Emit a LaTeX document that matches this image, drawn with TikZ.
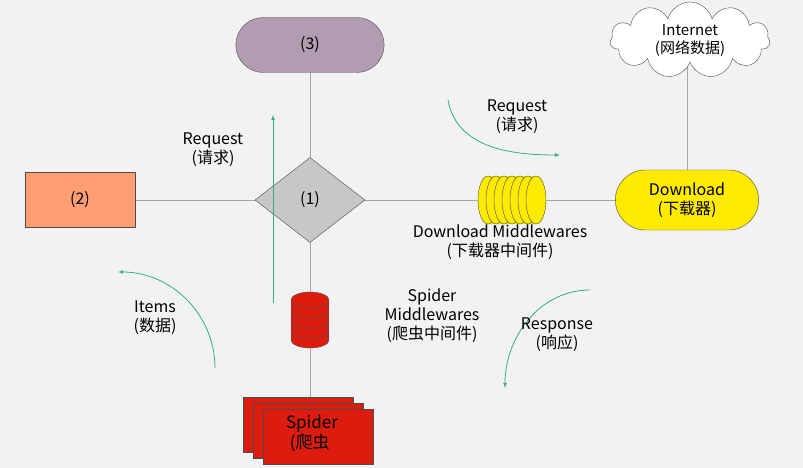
\documentclass[tikz,border=0pt]{standalone}
\usepackage{fontspec}
\setmainfont{Noto Sans CJK SC}
\usetikzlibrary{shapes.geometric,shapes.symbols,shapes.misc,positioning}
\definecolor{flow}{HTML}{2FAE8A}
\definecolor{spred}{HTML}{DD1C10}
\definecolor{ylw}{HTML}{FFEB00}
\tikzset{
  box/.style={draw=black!70,thin,minimum width=110pt,minimum height=55pt,font=\fontsize{16}{19}\selectfont},
  lbl/.style={align=center,font=\fontsize{16}{19}\selectfont},
  flowarrow/.style={-latex,flow,thick}
}
\begin{document}
\begin{tikzpicture}[x=1pt,y=-1pt]
		\fill[black!5] (0,0) rectangle (803,468);
		\useasboundingbox (0,0) rectangle (803,468);
		% axes between the parts
		\draw[black!35] (80,200) -- (687,200);
		\draw[black!35] (310,45) -- (310,400);
		\draw[black!35] (687,40) -- (687,200);
		% main parts
		\node[box,rounded rectangle,fill=violet!30!gray!60,minimum width=155pt] (sched) at (310,45) {(3)};
		\node[box,diamond,fill=black!22,minimum width=110pt,minimum height=85pt,aspect=1.3,inner sep=0pt] (engine) at (310,200) {(1)};
		\node[box,fill=orange!60!red!55,minimum width=110pt] (pipe) at (80,200) {(2)};
		\node[box,rounded rectangle,fill=ylw,minimum width=150pt,minimum height=60pt,align=center] (down) at (687,200) {Download\\(下载器)};
		\node[cloud,draw=black!70,fill=white,cloud puffs=11,aspect=2.2,minimum width=160pt,minimum height=76pt,align=center,inner sep=0pt,font=\fontsize{15}{18}\selectfont] (net) at (690,40) {Internet\\(网络数据)};
		% download middlewares
		\fill[ylw] (488,176) rectangle (536,224);
		\foreach \i in {0,...,6}
			\draw[black!70,fill=ylw] (488+8*\i,200) ellipse (10 and 24);
		% spider middlewares
		\fill[spred] (291,300) rectangle (329,340);
		\foreach \i in {0,...,4}
			\draw[black!70,fill=spred] (310,340-10*\i) ellipse (19 and 8);
		% spider
		\foreach \i in {0,1,2}
			\draw[black!70,fill=spred] (243+10*\i,397+6*\i) rectangle (353+10*\i,452+6*\i);
		\node[lbl,font=\fontsize{17}{20}\selectfont,align=left] (spider) at (312,433) {Spider\\ \ (爬虫};
		% flows
		\draw[flowarrow] (273,303) -- (273,115);
		\draw[flowarrow] (448,100) to[out=-80,in=180] (560,155);
		\draw[flowarrow] (590,290) to[out=180,in=90] (505,388);
		\draw[flowarrow] (215,368) to[out=90,in=0] (118,272);
		% labels
		\node[lbl] (req1) at (213,150) {Request\\(请求)};
		\node[lbl] (req2) at (517,117) {Request\\(请求)};
		\node[lbl] (dmw) at (500,242) {Download Middlewares\\(下载器中间件)};
		\node[lbl] (items) at (155,318) {Items\\(数据)};
		\node[lbl] (smw) at (432,316) {Spider\\Middlewares\\(爬虫中间件)};
		\node[lbl] (resp) at (557,335) {Response\\(响应)};
	\end{tikzpicture}
\end{document}
